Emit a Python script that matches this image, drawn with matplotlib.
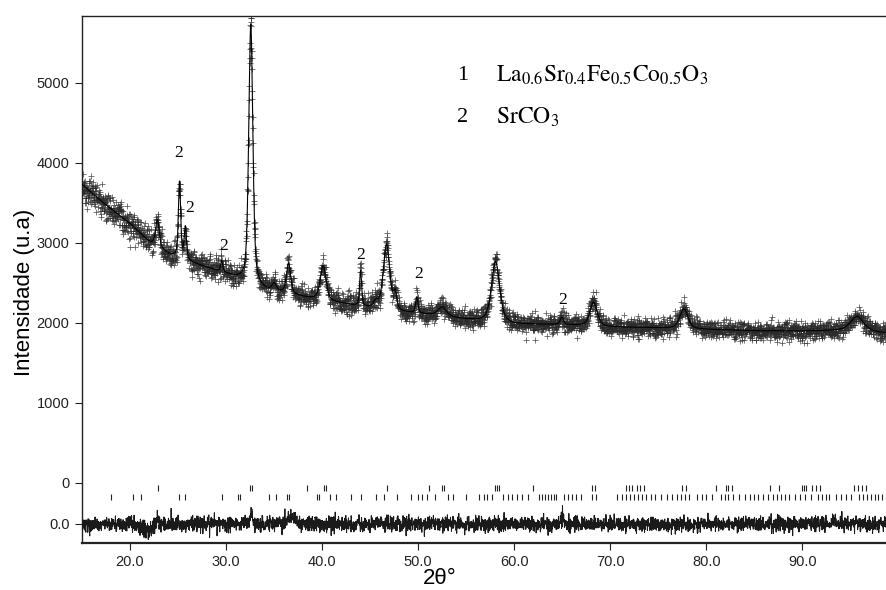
import numpy as np
import matplotlib
matplotlib.use("Agg")
import matplotlib.pyplot as plt

# ---------------- data ----------------
# background knots (2theta, intensity)
bg_x = [15, 17, 20, 22, 24, 27, 30, 34, 36, 38, 42, 45, 48, 52, 55, 60, 65, 70, 75, 80, 85, 90, 95, 98.8]
bg_y = [3730, 3520, 3240, 3010, 2860, 2730, 2610, 2410, 2370, 2320, 2240, 2180, 2130, 2090, 2040, 1980, 1975, 1945, 1935, 1915, 1900, 1895, 1905, 1870]

# peaks: position (2theta), height above background, FWHM (deg)
peak_pos = [22.85, 25.15, 25.75, 29.55, 32.57, 35.0, 36.5, 40.1, 44.0, 45.6, 46.7, 47.6, 49.85, 52.5, 58.05, 64.95, 68.25, 77.65, 95.7]
peak_height = [340, 950, 400, 140, 3250, 90, 380, 430, 440, 80, 820, 200, 200, 110, 760, 90, 300, 250, 180]
peak_fwhm = [0.45, 0.28, 0.28, 0.25, 0.5, 0.5, 0.5, 0.7, 0.25, 0.5, 0.8, 0.4, 0.3, 1.0, 1.0, 0.4, 0.9, 1.0, 1.6]

# Bragg reflection positions
phase1_ticks = [22.9, 32.45, 32.65, 38.4, 40.2, 40.4, 46.74, 51.1, 52.5, 52.7, 58.0, 58.2, 58.4, 62.0,
                68.1, 68.4, 71.6, 71.9, 72.3, 72.8, 73.1, 73.5, 77.5, 77.9, 81.0, 82.0, 82.3, 82.7,
                86.6, 87.6, 89.9, 90.2, 90.4, 91.0, 91.4, 91.8, 95.4, 95.8, 96.2, 96.6]
phase2_ticks = [18.0, 20.3, 21.1, 25.1, 25.7, 29.55, 31.2, 31.4, 34.5, 35.2, 36.3, 36.6, 39.5, 39.7,
                40.8, 41.4, 43.0, 44.0, 45.6, 46.4, 47.8, 49.2, 50.0, 50.4, 50.9, 51.7, 53.05, 53.6,
                55.0, 56.35, 56.9, 57.2, 57.7, 58.8, 59.3, 59.8, 60.3, 60.8, 61.4,
                62.6, 62.9, 63.2, 63.5, 63.8, 64.1, 64.3, 65.2, 65.6, 66.0, 66.4, 66.9, 68.1, 68.5,
                70.7, 71.2, 71.6, 72.0, 72.5, 72.9, 73.3, 73.7, 74.2, 74.7, 75.3,
                75.9, 76.4, 76.9, 77.4, 77.8, 78.2, 79.0, 79.5, 80.0, 80.6,
                81.5, 81.9, 82.3, 82.8, 83.4, 84.0, 84.5, 85.0, 85.4, 85.9, 86.4, 86.9, 87.3, 87.8, 88.2, 88.6,
                89.2, 89.7, 90.3, 90.9, 91.6, 92.0, 92.4, 92.8, 93.5, 94.0, 94.5, 95.1,
                95.9, 96.3, 96.7, 97.1, 97.5, 97.9, 98.3, 98.7]

# difference-curve features (position, amplitude, width)
diff_pos = [21.8, 22.9, 32.6, 36.8, 65.0]
diff_amp = [-70, 110, 120, 70, 50]
diff_wid = [0.8, 0.15, 0.2, 0.8, 0.3]

# SrCO3 labels
lab_x = [25.1, 26.25, 29.7, 36.56, 43.96, 50.0, 65.0]
lab_y = [4121, 3434, 2959, 3046, 2846, 2609, 2284]

yticks = [-516, 0, 1000, 2000, 3000, 4000, 5000]
yticklabels = ["0.0", "0", "1000", "2000", "3000", "4000", "5000"]
xticks = [20, 30, 40, 50, 60, 70, 80, 90]
xticklabels = ["20.0", "30.0", "40.0", "50.0", "60.0", "70.0", "80.0", "90.0"]

diff_offset = -516
row1_y = -66
row2_y = -180

# ---------------- profile ----------------
x = np.arange(15.0, 98.85, 0.02)
calc = np.interp(x, bg_x, bg_y)
for p, h, w in zip(peak_pos, peak_height, peak_fwhm):
    g = np.exp(-4 * np.log(2) * ((x - p) / w) ** 2)
    l = 1.0 / (1.0 + 4 * ((x - p) / w) ** 2)
    calc = calc + h * (0.5 * g + 0.5 * l)

rng = np.random.default_rng(7)
noise_scale = np.interp(x, [15, 25, 35, 99], [85, 75, 65, 62])
obs = calc + rng.normal(0, 1, x.size) * noise_scale * np.sqrt(calc / 2500)

diff = diff_offset + rng.normal(0, 48, x.size)
for p, a, w in zip(diff_pos, diff_amp, diff_wid):
    diff = diff + a * np.exp(-((x - p) / w) ** 2)

# ---------------- figure ----------------
fig = plt.figure(figsize=(8.87, 5.90), dpi=100)
ax = fig.add_axes([82 / 887, 47 / 590, 805 / 887, 527 / 590])

ax.plot(x, obs, linestyle="none", marker="+", markersize=4.5, markeredgewidth=0.55,
        color="#2a2a2a", alpha=0.8, zorder=2)
ax.plot(x, calc, color="black", linewidth=0.8, zorder=3)
ax.plot(x, diff, color="#1a1a1a", linewidth=0.75, zorder=3)
ax.vlines(phase1_ticks, row1_y - 35, row1_y + 35, color="#222222", linewidth=0.8)
ax.vlines(phase2_ticks, row2_y - 35, row2_y + 35, color="#222222", linewidth=0.8)

for lx, ly in zip(lab_x, lab_y):
    ax.text(lx, ly, "2", ha="center", va="center", fontsize=12.5, family="Liberation Serif")

ax.set_xlim(15, 98.8)
ax.set_ylim(-754, 5834)
ax.set_yticks(yticks)
ax.set_yticklabels(yticklabels, fontsize=10.5, family="Liberation Sans", color="#222222")
ax.set_xticks(xticks)
ax.set_xticklabels(xticklabels, fontsize=10.5, family="Liberation Sans", color="#222222")
ax.tick_params(direction="out", length=5, width=0.8, colors="#222222", pad=4)
ax.spines["right"].set_visible(False)
for s in ["left", "top", "bottom"]:
    ax.spines[s].set_linewidth(1.0)
    ax.spines[s].set_color("#222222")
ax.spines["bottom"].set_linewidth(1.6)

fig.text(25 / 887, 1 - 292 / 590, "Intensidade (u.a)", rotation=90, ha="center", va="center",
         fontsize=16, family="Liberation Sans")
fig.text(440 / 887, 1 - 578 / 590, "2θ°", ha="center", va="center", fontsize=16,
         family="Liberation Sans")

plt.rcParams["mathtext.fontset"] = "stix"
fig.text(463 / 887, 1 - 75 / 590, "1", ha="center", va="center", fontsize=16, family="Liberation Serif")
fig.text(496 / 887, 1 - 75 / 590, r"$\mathrm{La_{0.6}Sr_{0.4}Fe_{0.5}Co_{0.5}O_{3}}$",
         ha="left", va="center", fontsize=17)
fig.text(463 / 887, 1 - 117 / 590, "2", ha="center", va="center", fontsize=16, family="Liberation Serif")
fig.text(496 / 887, 1 - 117 / 590, r"$\mathrm{SrCO_{3}}$", ha="left", va="center", fontsize=17)

fig.savefig("out.png", dpi=100)
